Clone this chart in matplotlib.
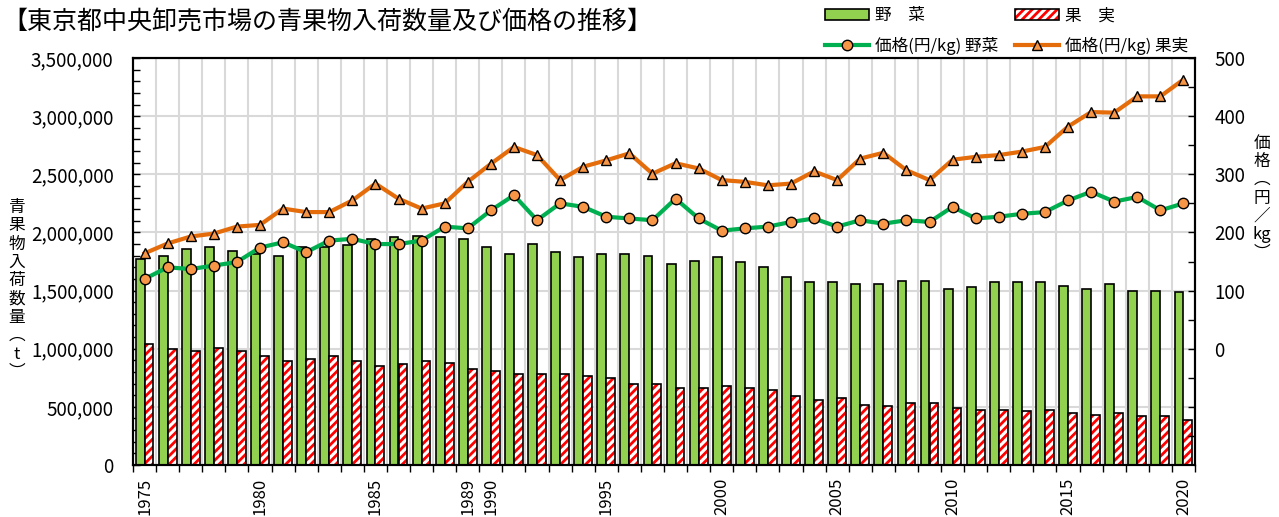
import numpy as np
import matplotlib
matplotlib.use('Agg')
import matplotlib.pyplot as plt
from matplotlib.ticker import FuncFormatter, MultipleLocator
from matplotlib.patches import Patch
from matplotlib.lines import Line2D
from matplotlib.legend_handler import HandlerTuple

plt.rcParams['font.family'] = ['Noto Sans CJK JP', 'DejaVu Sans']
plt.rcParams['hatch.linewidth'] = 2.0

# データ
years = list(range(1975, 2021))
label_years = [1975, 1980, 1985, 1989, 1990, 1995, 2000, 2005, 2010, 2015, 2020]

# 入荷数量 (t)
veg_qty = [1771000, 1800000, 1857000, 1871000, 1843000, 1814000, 1800000, 1871000,
           1871000, 1891000, 1943000, 1957000, 1971000, 1957000, 1943000, 1871000,
           1814000, 1900000, 1829000, 1786000, 1814000, 1814000, 1800000, 1729000,
           1757000, 1786000, 1743000, 1700000, 1614000, 1571000, 1571000, 1557000,
           1557000, 1586000, 1586000, 1514000, 1529000, 1571000, 1571000, 1571000,
           1543000, 1514000, 1557000, 1500000, 1500000, 1486000]
fruit_qty = [1037000, 994000, 980000, 1009000, 980000, 937000, 891000, 909000,
             937000, 891000, 851000, 866000, 894000, 880000, 823000, 809000,
             780000, 780000, 780000, 766000, 751000, 694000, 694000, 666000,
             663000, 677000, 663000, 649000, 591000, 563000, 577000, 520000,
             506000, 534000, 534000, 491000, 477000, 477000, 463000, 477000,
             449000, 434000, 449000, 420000, 420000, 391000]

# 価格 (円/kg)
veg_price = [120, 140, 137, 143, 149, 174, 183, 166, 186, 189, 180, 180,
             186, 210, 207, 238, 264, 221, 250, 244, 227, 224, 221, 258,
             224, 203, 207, 210, 218, 224, 210, 221, 215, 221, 218, 244,
             224, 227, 232, 235, 255, 270, 253, 261, 238, 250]
fruit_price = [164, 181, 193, 198, 210, 213, 241, 235, 235, 255, 284, 258,
               241, 250, 287, 318, 347, 333, 290, 313, 324, 336, 301, 319,
               310, 290, 287, 281, 284, 305, 290, 327, 337, 307, 290, 325,
               330, 333, 339, 347, 382, 407, 406, 434, 434, 463]

VEG = '#92D050'
GREEN_LINE = '#00B050'
ORANGE_LINE = '#E46C0A'
MARKER_FC = '#F79646'
GRID = '#D9D9D9'

fig = plt.figure(figsize=(12.79, 5.17), dpi=100)
W, H = 1279, 517
ax = fig.add_axes([133 / W, 1 - 465 / H, (1195 - 133) / W, (465 - 58) / H])

x = np.arange(len(years))
w = 0.385
ax.bar(x - w / 2, veg_qty, w, color=VEG, edgecolor='black', linewidth=1.2, zorder=2)
ax.bar(x + w / 2, fruit_qty, w, color='white', edgecolor='#FF0000', hatch='////',
       linewidth=0, zorder=2)
ax.bar(x + w / 2, fruit_qty, w, fill=False, edgecolor='black', linewidth=1.2, zorder=3)

ax.set_xlim(-0.5, len(years) - 0.5)
ax.set_ylim(0, 3500000)
ax.yaxis.set_major_locator(MultipleLocator(500000))
ax.yaxis.set_minor_locator(MultipleLocator(100000))
ax.yaxis.set_major_formatter(FuncFormatter(lambda v, p: f'{v:,.0f}'))
ax.tick_params(axis='y', which='both', direction='in', length=5, width=1,
               labelsize=13.5, pad=14)

ax.set_xticks(x)
ax.set_xticklabels([str(y) if y in label_years else '' for y in years], rotation=90,
                   fontsize=12)
ax.tick_params(axis='x', which='major', length=0, pad=9)
ax.set_xticks(np.arange(-0.5, len(years), 1), minor=True)
ax.tick_params(axis='x', which='minor', direction='out', length=5, width=1)

ax.grid(axis='x', which='minor', color=GRID, lw=1.5)
ax.grid(axis='y', which='major', color=GRID, lw=1.5)
ax.set_axisbelow(True)

ax2 = ax.twinx()
ax2.plot(x, veg_price, color=GREEN_LINE, lw=3, marker='o', ms=7.5,
         mfc=MARKER_FC, mec='black', mew=1, zorder=4)
ax2.plot(x, fruit_price, color=ORANGE_LINE, lw=3, marker='^', ms=7,
         mfc=MARKER_FC, mec='black', mew=1, zorder=4)
ax2.set_ylim(-200, 500)
ax2.set_yticks([0, 100, 200, 300, 400, 500])
ax2.set_yticks([-150, -100, -50, 50, 150, 250, 350, 450], minor=True)
ax2.tick_params(axis='y', which='both', direction='in', length=5, width=1,
                labelsize=13.5, pad=14)

for a in (ax, ax2):
    for s in a.spines.values():
        s.set_color('black')
        s.set_linewidth(1.5)

fig.text(2 / W, 1 - 23 / H, '【東京都中央卸売市場の青果物入荷数量及び価格の推移】',
         fontsize=18, ha='left', va='center')
fig.text(17 / W, 1 - 290 / H, '青\n果\n物\n入\n荷\n数\n量\n︵\nt\n︶',
         fontsize=12, ha='center', va='center', linespacing=1.1)
fig.text(1262 / W, 1 - 198 / H, '価\n格\n︵\n円\n／\nkg\n︶',
         fontsize=12, ha='center', va='center', linespacing=1.1)

h_veg = Patch(facecolor=VEG, edgecolor='black', lw=1.2)
h_fruit = (Patch(facecolor='white', edgecolor='#FF0000', hatch='////', lw=0),
           Patch(fill=False, edgecolor='black', lw=1.2))
h_vp = Line2D([], [], color=GREEN_LINE, lw=3, marker='o', ms=7.5, mfc=MARKER_FC,
              mec='black', mew=1)
h_fp = Line2D([], [], color=ORANGE_LINE, lw=3, marker='^', ms=7, mfc=MARKER_FC,
              mec='black', mew=1)
fig.legend([h_veg, h_vp, h_fruit, h_fp],
           ['野　菜', '価格(円/kg) 野菜', '果　実', '価格(円/kg) 果実'],
           handler_map={tuple: HandlerTuple(ndivide=1, pad=0)},
           loc='upper left', bbox_to_anchor=(822 / W, 1 - 4 / H), ncol=2, frameon=False,
           fontsize=12, handlelength=2.6, handleheight=0.72, handletextpad=0.4,
           columnspacing=1.0, labelspacing=0.75, borderpad=0.2, borderaxespad=0)

fig.savefig('out.png', dpi=100)
